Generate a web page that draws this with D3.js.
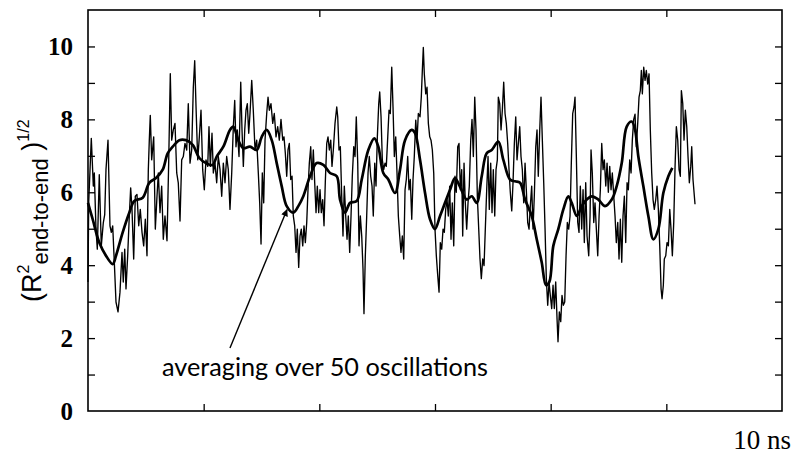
<!DOCTYPE html>
<html lang="en">
<head>
<meta charset="utf-8">
<title>End-to-end distance</title>
<script src="https://cdn.jsdelivr.net/npm/d3@7"></script>
<style>
  body { margin: 0; background: #fff; }
  svg { display: block; }
</style>
</head>
<body>
<script>
// time (ns) and (R^2 end-to-end)^1/2
const rawSeries = [
[0,3.54],[0.012,5.71],[0.057,7.48],[0.092,6.17],[0.109,6.53],[0.138,4.99],[0.161,4.44],[0.195,6.48],[0.230,4.53],[0.265,5.17],
[0.289,5.39],[0.311,6.62],[0.346,7.43],[0.380,5.08],[0.403,4.9],[0.427,5.08],[0.455,4.08],[0.484,2.99],[0.519,2.72],[0.553,3.26],
[0.588,4.35],[0.610,3.54],[0.635,4.44],[0.657,3.35],[0.686,4.26],[0.714,5.35],[0.738,6.12],[0.761,5.53],[0.790,4.17],[0.818,5.89],
[0.847,5.94],[0.877,5.08],[0.904,5.53],[0.934,4.9],[0.963,4.53],[0.991,5.26],[1.020,4.26],[1.043,6.62],[1.060,7.43],[1.077,8.11],
[1.101,6.89],[1.136,7.52],[1.164,4.99],[1.193,5.89],[1.216,6.53],[1.245,5.44],[1.274,6.17],[1.302,4.71],[1.331,5.35],[1.366,4.67],
[1.395,6.8],[1.423,9.25],[1.447,7.43],[1.475,7.71],[1.504,7.89],[1.534,6.53],[1.561,6.26],[1.591,5.21],[1.620,6.89],[1.648,6.98],
[1.677,7.34],[1.707,7.16],[1.734,8.43],[1.764,6.8],[1.793,7.16],[1.821,8.88],[1.845,9.61],[1.868,8.34],[1.897,6.89],[1.925,7.52],
[1.954,8.25],[1.983,6.62],[2.011,6.07],[2.040,6.89],[2.070,6.71],[2.092,7.8],[2.115,6.71],[2.144,7.62],[2.167,6.53],[2.196,6.8],
[2.225,6.26],[2.253,6.98],[2.283,6.62],[2.312,5.89],[2.340,6.8],[2.369,6.26],[2.398,6.98],[2.426,6.62],[2.455,5.53],[2.485,6.53],
[2.513,7.8],[2.537,8.52],[2.559,7.25],[2.582,7.71],[2.611,6.98],[2.641,9.02],[2.663,7.71],[2.686,6.71],[2.710,7.71],[2.732,8.25],
[2.755,8.43],[2.779,7.62],[2.801,8.16],[2.831,9.07],[2.858,8.25],[2.888,7.16],[2.917,7.43],[2.945,6.53],[2.969,5.71],[2.992,4.58],
[3.014,6.53],[3.038,5.71],[3.061,7.43],[3.090,8.16],[3.113,8.61],[3.135,8.25],[3.164,8.43],[3.194,7.89],[3.221,8.16],[3.251,7.52],
[3.280,7.8],[3.308,7.43],[3.337,8.0],[3.367,7.43],[3.389,7.52],[3.412,7.07],[3.436,6.44],[3.458,7.16],[3.481,7.34],[3.505,6.35],
[3.528,6.44],[3.550,5.35],[3.574,5.08],[3.597,4.35],[3.619,4.99],[3.643,3.94],[3.666,4.8],[3.688,4.99],[3.713,4.53],[3.735,5.08],
[3.758,4.62],[3.782,5.17],[3.804,6.07],[3.827,6.8],[3.851,7.25],[3.873,6.35],[3.896,7.16],[3.920,6.26],[3.943,5.44],[3.965,6.17],
[3.989,5.44],[4.012,6.07],[4.034,5.44],[4.058,5.8],[4.081,5.08],[4.103,6.26],[4.128,7.34],[4.150,7.52],[4.173,7.16],[4.197,7.43],
[4.219,6.71],[4.242,7.16],[4.271,7.89],[4.301,8.34],[4.318,8.07],[4.340,7.16],[4.363,7.25],[4.387,5.89],[4.409,4.8],[4.432,6.17],
[4.456,5.35],[4.479,4.71],[4.501,5.35],[4.525,4.35],[4.548,5.35],[4.570,6.44],[4.595,7.25],[4.617,6.98],[4.639,8.07],[4.664,6.8],
[4.686,4.53],[4.709,5.35],[4.733,4.8],[4.755,3.9],[4.772,2.67],[4.795,4.26],[4.819,5.35],[4.842,6.53],[4.864,6.98],[4.888,6.44],
[4.911,6.17],[4.933,5.35],[4.958,6.8],[4.980,6.17],[5.003,7.52],[5.027,8.43],[5.044,8.75],[5.067,8.07],[5.089,6.89],[5.113,6.62],
[5.136,6.8],[5.158,6.71],[5.183,7.52],[5.205,8.25],[5.227,8.16],[5.252,9.43],[5.274,8.34],[5.297,6.98],[5.321,7.52],[5.343,6.53],
[5.366,5.35],[5.390,4.8],[5.412,4.35],[5.435,4.8],[5.459,4.17],[5.482,6.07],[5.504,6.35],[5.528,6.98],[5.551,6.07],[5.573,6.35],
[5.598,5.26],[5.620,6.35],[5.642,6.98],[5.667,7.98],[5.689,7.43],[5.712,8.16],[5.741,8.07],[5.763,8.61],[5.781,9.34],[5.798,9.97],
[5.815,9.25],[5.840,8.7],[5.862,8.88],[5.885,7.89],[5.909,7.52],[5.931,7.43],[5.954,7.16],[5.978,6.53],[6.000,4.99],[6.023,4.26],
[6.047,3.72],[6.070,3.26],[6.092,4.62],[6.116,4.44],[6.139,4.99],[6.161,4.9],[6.185,5.53],[6.208,5.8],[6.230,5.35],[6.254,6.17],
[6.277,4.71],[6.299,5.71],[6.324,4.53],[6.346,6.44],[6.368,6.0],[6.393,7.25],[6.415,7.34],[6.438,6.07],[6.462,6.62],[6.479,4.8],
[6.502,6.8],[6.524,5.71],[6.548,4.99],[6.571,5.71],[6.593,6.17],[6.618,7.43],[6.640,8.0],[6.663,6.98],[6.687,8.61],[6.709,7.71],
[6.732,5.89],[6.756,4.99],[6.778,4.17],[6.801,3.63],[6.825,4.17],[6.848,3.99],[6.870,4.99],[6.894,6.07],[6.917,6.98],[6.939,5.53],
[6.963,6.8],[6.986,5.44],[7.008,6.62],[7.033,5.35],[7.055,6.62],[7.078,6.89],[7.095,8.61],[7.119,8.43],[7.142,7.71],[7.164,8.25],
[7.188,9.02],[7.211,8.16],[7.233,7.89],[7.257,7.34],[7.280,6.62],[7.302,6.0],[7.327,5.49],[7.349,6.26],[7.372,7.34],[7.396,8.07],
[7.418,6.89],[7.441,7.34],[7.465,7.8],[7.487,6.98],[7.510,6.62],[7.534,5.71],[7.557,6.8],[7.579,6.07],[7.603,5.17],[7.626,4.99],
[7.648,5.62],[7.672,6.17],[7.695,4.99],[7.717,5.89],[7.742,7.25],[7.764,7.71],[7.786,6.44],[7.811,7.71],[7.833,8.61],[7.856,7.43],
[7.880,6.26],[7.903,4.99],[7.925,3.63],[7.949,2.9],[7.972,3.54],[7.994,3.17],[8.018,2.81],[8.041,3.45],[8.063,2.81],[8.087,3.54],
[8.110,2.54],[8.127,1.9],[8.150,2.72],[8.174,2.45],[8.196,3.17],[8.219,2.9],[8.243,2.99],[8.266,4.26],[8.288,5.17],[8.312,4.99],
[8.335,5.35],[8.357,6.8],[8.381,8.16],[8.404,8.34],[8.421,8.61],[8.444,6.98],[8.468,5.17],[8.490,4.9],[8.513,6.17],[8.537,4.99],
[8.560,6.07],[8.582,4.62],[8.606,6.26],[8.629,4.8],[8.658,4.26],[8.681,5.35],[8.698,7.16],[8.720,6.53],[8.745,5.17],[8.767,5.71],
[8.790,4.99],[8.814,4.26],[8.837,5.35],[8.859,6.07],[8.883,7.34],[8.906,6.62],[8.928,6.89],[8.953,6.17],[8.975,6.8],[8.997,6.0],
[9.021,6.71],[9.044,6.07],[9.066,6.53],[9.091,5.89],[9.113,5.35],[9.135,4.62],[9.160,5.17],[9.182,4.17],[9.205,5.26],[9.229,4.08],
[9.251,5.35],[9.274,5.89],[9.298,4.62],[9.321,6.26],[9.343,6.07],[9.367,6.89],[9.390,6.53],[9.412,7.43],[9.436,8.0],[9.459,8.14],
[9.481,7.25],[9.505,7.89],[9.528,8.61],[9.550,8.79],[9.568,9.34],[9.585,8.7],[9.609,9.43],[9.632,9.07],[9.654,9.34],[9.678,8.97],
[9.701,9.25],[9.723,7.71],[9.747,6.53],[9.770,5.8],[9.792,5.53],[9.817,5.8],[9.839,6.17],[9.862,5.53],[9.886,4.53],[9.909,3.35],
[9.926,3.08],[9.948,3.45],[9.965,4.17],[9.990,4.26],[10.012,4.62],[10.035,4.53],[10.059,5.53],[10.081,4.99],[10.104,4.26],[10.128,5.17],
[10.151,6.71],[10.173,7.8],[10.197,7.43],[10.220,6.62],[10.242,6.44],[10.260,8.79],[10.284,8.43],[10.306,7.43],[10.329,8.25],[10.353,7.8],
[10.375,6.98],[10.398,6.26],[10.422,6.71],[10.439,7.25],[10.461,6.35],[10.496,5.67]
];

// running average over 50 oscillations
const avgSeries = [
[0,5.71],[0.081,5.26],[0.195,4.62],[0.311,4.26],[0.427,4.03],[0.484,4.26],[0.600,4.9],[0.714,5.44],[0.801,5.76],[0.946,5.85],
[1.060,6.26],[1.176,6.39],[1.292,6.62],[1.378,7.07],[1.465,7.25],[1.579,7.43],[1.695,7.43],[1.810,7.3],[1.925,6.94],[2.040,6.8],
[2.156,6.75],[2.225,6.98],[2.340,7.25],[2.455,7.71],[2.513,7.8],[2.599,7.43],[2.686,7.21],[2.801,7.25],[2.917,7.16],[3.004,7.52],
[3.090,7.71],[3.177,7.43],[3.263,6.8],[3.349,6.17],[3.436,5.62],[3.550,5.44],[3.637,5.62],[3.723,5.89],[3.839,6.44],[3.955,6.8],
[4.069,6.75],[4.185,6.53],[4.301,6.44],[4.358,5.8],[4.444,5.44],[4.531,5.71],[4.646,5.76],[4.733,6.35],[4.847,7.16],[4.951,7.48],
[5.020,7.25],[5.106,6.53],[5.193,6.35],[5.309,5.98],[5.395,6.62],[5.482,7.43],[5.598,7.71],[5.655,7.62],[5.741,6.89],[5.828,5.98],
[5.914,5.26],[6.000,4.99],[6.087,5.35],[6.173,5.71],[6.260,6.07],[6.346,6.39],[6.433,6.15],[6.548,5.8],[6.635,5.89],[6.721,5.71],
[6.808,6.44],[6.894,7.07],[6.981,7.16],[7.095,7.39],[7.182,6.89],[7.297,6.35],[7.384,6.3],[7.470,6.26],[7.557,5.8],[7.672,5.35],
[7.759,4.71],[7.845,4.08],[7.920,3.45],[7.977,3.54],[8.046,4.53],[8.132,4.99],[8.219,5.53],[8.305,5.89],[8.364,5.71],[8.451,5.35],
[8.537,5.62],[8.624,5.8],[8.710,5.89],[8.824,5.8],[8.940,5.62],[9.056,5.8],[9.142,6.17],[9.229,6.8],[9.315,7.8],[9.402,7.94],
[9.459,7.71],[9.516,6.98],[9.602,6.17],[9.689,5.35],[9.775,4.71],[9.862,4.99],[9.948,5.98],[10.035,6.44],[10.104,6.67]
];

const yLabels = [0, 2, 4, 6, 8, 10];
const yMinorTicks = [1, 2, 3, 4, 5, 6, 7, 8, 9, 10];
const xTicks = [2, 4, 6, 8, 10];
const annotation = "averaging over 50 oscillations";
const unitLabel = "10 ns";

const width = 793;
const height = 455;
const plotLeft = 88, plotRight = 782, plotTop = 10, plotBottom = 411;

const svg = d3.select("body").append("svg")
  .attr("width", width)
  .attr("height", height);

const xScale = d3.scaleLinear().domain([0, 12]).range([plotLeft, plotRight]);
const yScale = d3.scaleLinear().domain([0, 11]).range([plotBottom, plotTop]);

// frame
svg.append("rect")
  .attr("x", plotLeft).attr("y", plotTop)
  .attr("width", plotRight - plotLeft).attr("height", plotBottom - plotTop)
  .attr("fill", "none").attr("stroke", "#000").attr("stroke-width", 1.6);

// inward ticks on all four sides
const tick = 7;
const axes = [
  [d3.axisLeft(yScale).tickValues(yMinorTicks), `translate(${plotLeft},0)`],
  [d3.axisRight(yScale).tickValues(yMinorTicks), `translate(${plotRight},0)`],
  [d3.axisBottom(xScale).tickValues(xTicks), `translate(0,${plotBottom})`],
  [d3.axisTop(xScale).tickValues(xTicks), `translate(0,${plotTop})`]
];
axes.forEach(([ax, tr]) => {
  const g = svg.append("g")
    .attr("transform", tr)
    .call(ax.tickSize(-tick).tickFormat(""));
  g.select(".domain").remove();
  g.selectAll("line").attr("stroke", "#000").attr("stroke-width", 1.3);
});

// y labels
svg.append("g")
  .selectAll("text")
  .data(yLabels)
  .enter()
  .append("text")
  .attr("x", plotLeft - 15)
  .attr("y", d => yScale(d))
  .attr("dy", "0.34em")
  .attr("text-anchor", "end")
  .attr("font-family", "Liberation Serif, Times New Roman, serif")
  .attr("font-weight", "bold")
  .attr("font-size", 25)
  .text(d => d);

// y axis title
const yTitle = svg.append("text")
  .attr("transform", "rotate(-90)")
  .attr("x", -302)
  .attr("y", 41)
  .attr("font-family", "Liberation Sans, Arial, sans-serif")
  .attr("fill", "#000");
yTitle.append("tspan").attr("font-size", 27).text("(R");
yTitle.append("tspan").attr("font-size", 16).attr("dy", -12).text("2");
yTitle.append("tspan").attr("font-size", 22).attr("dy", 19).text("end-to-end");
yTitle.append("tspan").attr("font-size", 27).attr("dy", -7).text(" )");
yTitle.append("tspan").attr("font-size", 16).attr("dy", -12).text("1/2");

// unit label
svg.append("text")
  .attr("x", 791)
  .attr("y", 449)
  .attr("text-anchor", "end")
  .attr("font-family", "Liberation Serif, Times New Roman, serif")
  .attr("font-size", 27)
  .text(unitLabel);

// lines
const line = d3.line()
  .x(d => xScale(d[0]))
  .y(d => yScale(d[1]));

const plot = svg.append("g");

plot.append("path")
  .datum(rawSeries)
  .attr("d", line)
  .attr("fill", "none")
  .attr("stroke", "#000")
  .attr("stroke-width", 1.35)
  .attr("stroke-linejoin", "round");

plot.append("path")
  .datum(avgSeries)
  .attr("d", line.curve(d3.curveCatmullRom))
  .attr("fill", "none")
  .attr("stroke", "#000")
  .attr("stroke-width", 2.7)
  .attr("stroke-linejoin", "round");

// annotation with arrow
svg.append("defs").append("marker")
  .attr("id", "head")
  .attr("viewBox", "0 0 10 10")
  .attr("refX", 9).attr("refY", 5)
  .attr("markerUnits", "userSpaceOnUse")
  .attr("markerWidth", 9).attr("markerHeight", 7)
  .attr("orient", "auto")
  .append("path")
  .attr("d", "M0,0L10,5L0,10Z")
  .attr("fill", "#000");

svg.append("line")
  .attr("x1", xScale(2.455)).attr("y1", yScale(1.73))
  .attr("x2", xScale(3.44)).attr("y2", yScale(5.52))
  .attr("stroke", "#000")
  .attr("stroke-width", 1.4)
  .attr("marker-end", "url(#head)");

const note = svg.append("text")
  .attr("x", 162)
  .attr("y", 376)
  .attr("font-family", "Lato, Open Sans, sans-serif")
  .attr("font-size", 21)
  .text(annotation);
const len = note.node().getComputedTextLength();
note.attr("font-size", 21 * 326 / len);
</script>
</body>
</html>
